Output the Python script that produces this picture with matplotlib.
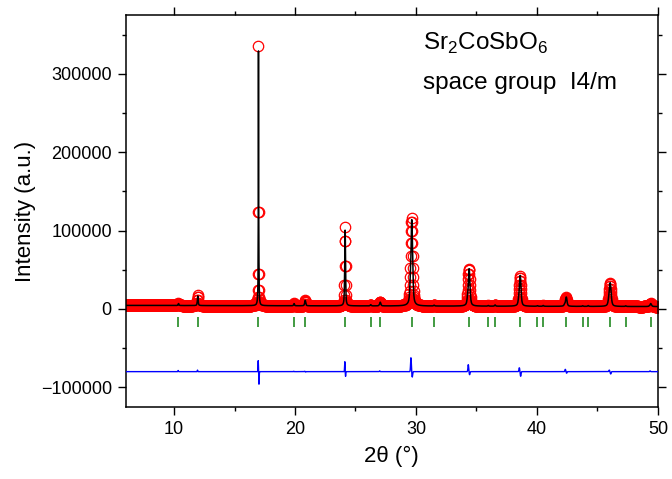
import numpy as np
import matplotlib
matplotlib.use("Agg")
from matplotlib import pyplot as plt
from matplotlib.ticker import MultipleLocator

plt.rcParams['font.family'] = ['Liberation Sans', 'DejaVu Sans']

peak_pos = [10.36, 11.96, 16.98, 19.92, 20.84, 24.14, 26.26, 27.04, 29.64, 31.50,
            34.38, 35.98, 36.54, 38.60, 40.04, 40.52, 42.40, 43.78, 44.24, 46.04,
            47.34, 49.40]
peak_obs = [3000, 13000, 331000, 3000, 7000, 101000, 1500, 5000, 112000, 1000,
            48000, 800, 1500, 38000, 800, 1000, 11500, 800, 1000, 30000,
            800, 4000]
peak_fwhm = [0.08, 0.08, 0.03, 0.08, 0.1, 0.08, 0.1, 0.12, 0.18, 0.1,
             0.18, 0.1, 0.1, 0.18, 0.1, 0.1, 0.18, 0.1, 0.1, 0.2,
             0.1, 0.16]
# misfit (obs - calc) seen in the difference curve: positive lobe, negative lobe
misfit_up = [1500, 2000, 14000, 500, 500, 13000, 0, 1000, 18000, 0,
             9000, 0, 0, 5000, 0, 0, 3000, 0, 0, 2000,
             0, 1000]
misfit_down = [0, 0, 16000, 0, 500, 6000, 0, 0, 7000, 0,
               4000, 0, 0, 6000, 0, 0, 2000, 0, 0, 3000,
               0, 0]
bragg_pos = peak_pos
background = [4500, 3000]       # at 6 and 50 deg
diff_offset = -80000
bragg_level = -16500

x = np.round(np.arange(6.0, 50.0001, 0.02), 2)


def pseudo_voigt(t, w, eta):
    g = np.exp(-4 * np.log(2) * (t / w) ** 2)
    l = 1.0 / (1 + (2 * t / w) ** 2)
    return eta * l + (1 - eta) * g


def gauss(t, w):
    return np.exp(-4 * np.log(2) * (t / w) ** 2)


bg = np.interp(x, [6, 50], background)
obs = bg.copy()
misfit = np.zeros_like(x)
for c, h, w, up, dn in zip(peak_pos, peak_obs, peak_fwhm, misfit_up, misfit_down):
    eta = 1.0 if w < 0.04 else 0.5
    obs += h * pseudo_voigt(x - c, w, eta)
    lw = max(0.04, 0.4 * w)
    misfit += up * gauss(x - c + max(0.02, 0.3 * w), lw)
    misfit -= dn * gauss(x - c - max(0.04, 0.3 * w), lw)
calc = obs - misfit
diff = obs - calc + diff_offset

fig = plt.figure(figsize=(6.72, 4.79), dpi=100)
ax = fig.add_axes([0.187, 0.1505, 0.792, 0.8182])

ax.plot(x, obs, 'o', mfc='none', mec='red', ms=7.5, mew=0.9, zorder=2)
ax.plot(x, calc, '-', color='black', lw=1.1, zorder=3)
ax.plot(bragg_pos, [bragg_level] * len(bragg_pos), '|', color='#108010', ms=6.5, mew=1.1, zorder=3)
ax.plot(x, diff, '-', color='#0000ff', lw=1.0, zorder=3)

ax.set_xlim(6, 50)
ax.set_ylim(-125000, 375000)
ax.xaxis.set_major_locator(MultipleLocator(10))
ax.xaxis.set_minor_locator(MultipleLocator(5))
ax.yaxis.set_major_locator(MultipleLocator(100000))
ax.yaxis.set_minor_locator(MultipleLocator(50000))

ax.tick_params(which='both', top=True, right=True, labelsize=13, width=1.0)
ax.tick_params(which='major', length=6, pad=4)
ax.tick_params(which='minor', length=3)
for s in ax.spines.values():
    s.set_linewidth(1.1)

ax.set_xlabel('2θ (°)', fontsize=16, labelpad=6)
ax.set_ylabel('Intensity (a.u.)', fontsize=16, labelpad=3)

ax.text(0.559, 0.911, r'Sr$_\mathregular{2}$CoSbO$_\mathregular{6}$', transform=ax.transAxes,
        fontsize=17.5, va='baseline')
ax.text(0.559, 0.811, 'space group  I4/m', transform=ax.transAxes, fontsize=17.5, va='baseline')

fig.savefig('out.png', dpi=100)
